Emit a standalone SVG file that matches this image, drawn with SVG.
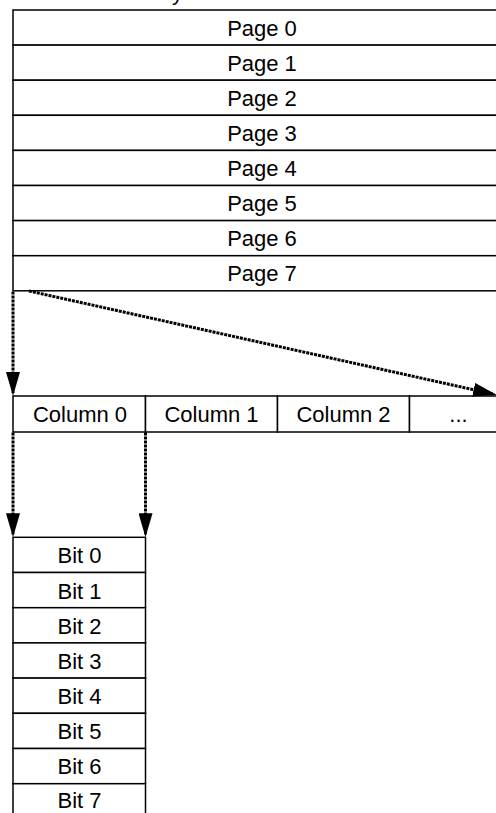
<svg xmlns="http://www.w3.org/2000/svg" width="496" height="813" viewBox="0 0 496 813">
<style>
.cell{fill:#fff;stroke:#000;stroke-width:1.5}
.lbl{font-family:"Liberation Sans",Arial,sans-serif;font-size:22px;fill:#000;text-anchor:middle}
.dot{fill:none;stroke:#000;stroke-width:3;stroke-dasharray:3 1}
</style>
<defs>
<marker id="ah" viewBox="0 0 24 14" refX="21" refY="7" markerWidth="24" markerHeight="14" markerUnits="userSpaceOnUse" orient="auto">
<path d="M0,0 L24,7 L0,14 z" fill="#000"/>
</marker>
</defs>
<rect width="496" height="813" fill="#fff"/>
<text class="lbl" x="172" y="-0.5" style="text-anchor:start">y</text>
<g id="pages">
<g id="page0"><rect class="cell" x="13" y="10" width="500" height="35.1"/><text class="lbl" x="262" y="35.5">Page 0</text></g>
<g id="page1"><rect class="cell" x="13" y="45.1" width="500" height="35.1"/><text class="lbl" x="262" y="70.6">Page 1</text></g>
<g id="page2"><rect class="cell" x="13" y="80.2" width="500" height="35.1"/><text class="lbl" x="262" y="105.7">Page 2</text></g>
<g id="page3"><rect class="cell" x="13" y="115.3" width="500" height="35.1"/><text class="lbl" x="262" y="140.8">Page 3</text></g>
<g id="page4"><rect class="cell" x="13" y="150.4" width="500" height="35.1"/><text class="lbl" x="262" y="175.9">Page 4</text></g>
<g id="page5"><rect class="cell" x="13" y="185.5" width="500" height="35.1"/><text class="lbl" x="262" y="211">Page 5</text></g>
<g id="page6"><rect class="cell" x="13" y="220.6" width="500" height="35.1"/><text class="lbl" x="262" y="246.1">Page 6</text></g>
<g id="page7"><rect class="cell" x="13" y="255.7" width="500" height="35.1"/><text class="lbl" x="262" y="281.2">Page 7</text></g>
</g>
<g id="columns">
<g id="col0"><rect class="cell" x="13" y="396" width="132.5" height="36"/><text class="lbl" x="80" y="422">Column 0</text></g>
<g id="col1"><rect class="cell" x="145.5" y="396" width="132" height="36"/><text class="lbl" x="211.5" y="422">Column 1</text></g>
<g id="col2"><rect class="cell" x="277.5" y="396" width="132" height="36"/><text class="lbl" x="343.5" y="422">Column 2</text></g>
<g id="colmore"><rect class="cell" x="409.5" y="396" width="132" height="36"/><text class="lbl" x="458.5" y="422">...</text></g>
</g>
<g id="bits">
<g id="bit0"><rect class="cell" x="13" y="537.3" width="132.5" height="35.2"/><text class="lbl" x="79.5" y="563.4">Bit 0</text></g>
<g id="bit1"><rect class="cell" x="13" y="572.5" width="132.5" height="35.2"/><text class="lbl" x="79.5" y="598.5">Bit 1</text></g>
<g id="bit2"><rect class="cell" x="13" y="607.7" width="132.5" height="35.2"/><text class="lbl" x="79.5" y="633.6">Bit 2</text></g>
<g id="bit3"><rect class="cell" x="13" y="642.9" width="132.5" height="35.2"/><text class="lbl" x="79.5" y="668.7">Bit 3</text></g>
<g id="bit4"><rect class="cell" x="13" y="678.1" width="132.5" height="35.2"/><text class="lbl" x="79.5" y="703.8">Bit 4</text></g>
<g id="bit5"><rect class="cell" x="13" y="713.3" width="132.5" height="35.2"/><text class="lbl" x="79.5" y="738.9">Bit 5</text></g>
<g id="bit6"><rect class="cell" x="13" y="748.5" width="132.5" height="35.2"/><text class="lbl" x="79.5" y="774">Bit 6</text></g>
<g id="bit7"><rect class="cell" x="13" y="783.7" width="132.5" height="40"/><text class="lbl" x="79.5" y="807.5">Bit 7</text></g>
</g>
<g id="connectors">
<line class="dot" x1="13" y1="291.5" x2="13" y2="393" marker-end="url(#ah)"/>
<line class="dot" x1="29" y1="291" x2="494.1" y2="394.3" marker-end="url(#ah)"/>
<line class="dot" x1="13" y1="432.5" x2="13" y2="534.3" marker-end="url(#ah)"/>
<line class="dot" x1="145.5" y1="432.5" x2="145.5" y2="534.3" marker-end="url(#ah)"/>
</g>
</svg>
